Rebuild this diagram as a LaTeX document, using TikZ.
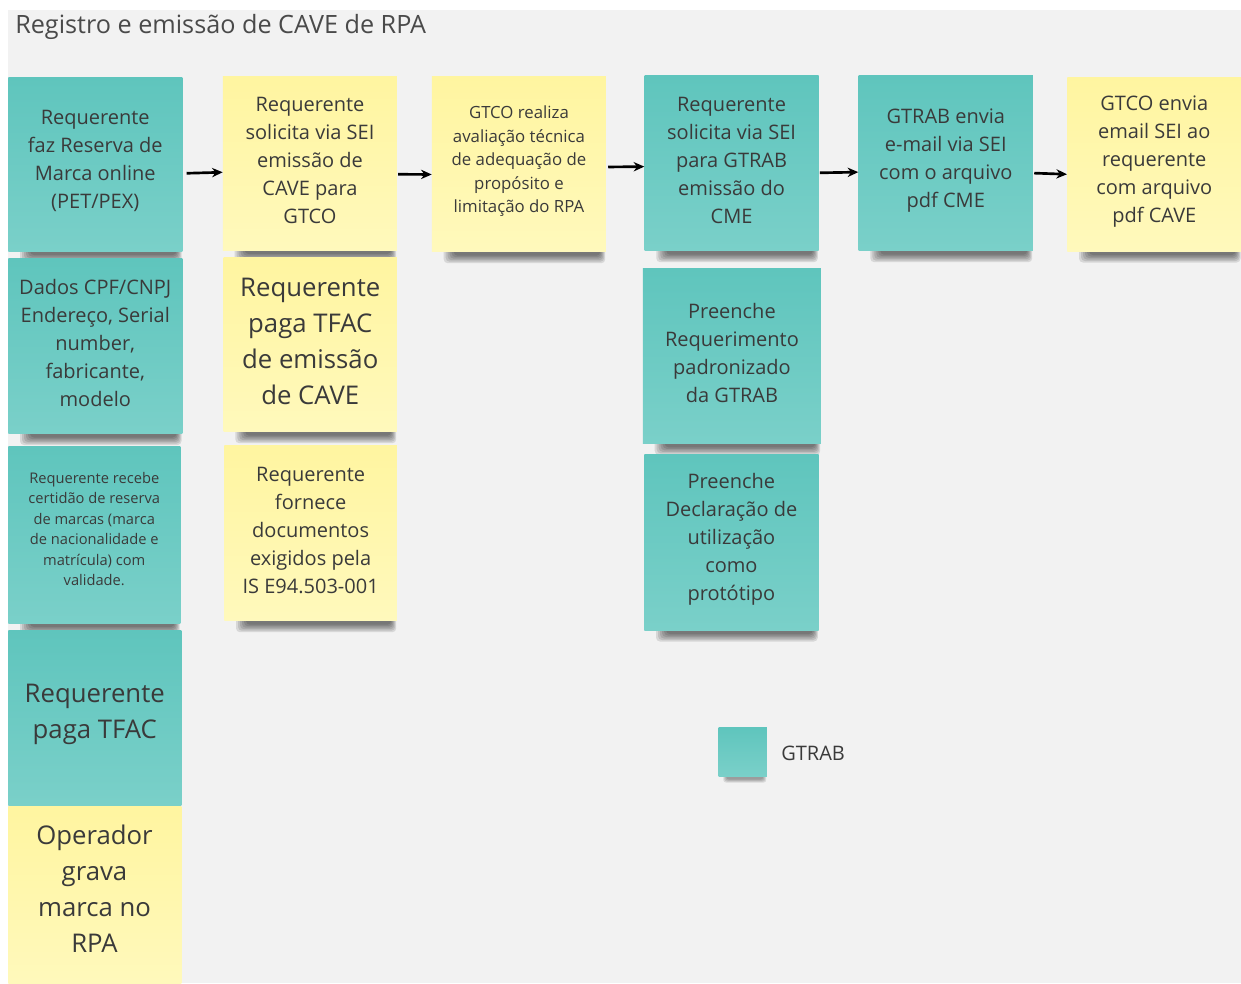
\documentclass[tikz,border=0pt]{standalone}
\usepackage{fontspec}
\setmainfont{Open Sans}
\usetikzlibrary{calc,arrows.meta}
\definecolor{bgc}{HTML}{F2F2F2}
\definecolor{tealA}{HTML}{5FC5BD}
\definecolor{tealB}{HTML}{7AD0C9}
\definecolor{yelA}{HTML}{FFF5A0}
\definecolor{yelB}{HTML}{FFF9BC}
\definecolor{txt}{HTML}{3A3A3A}
\definecolor{ttl}{HTML}{4A4A4A}
\pgfdeclarelayer{bglayer}
\pgfdeclarelayer{shadowlayer}
\pgfsetlayers{bglayer,shadowlayer,main}
\newcommand{\noteshadow}[1]{%
  \begin{pgfonlayer}{shadowlayer}
    \foreach \i in {0,...,5}{
      \fill[black,opacity=0.11,rounded corners=3]
        ($(#1.south west)+(12+2*\i,-4)$) rectangle ($(#1.south east)+(-1-\i,11-1.5*\i)$);
    }
  \end{pgfonlayer}}
% #1 name, #2 box style, #3 text style, #4 x, #5 y, #6 w, #7 h, #8 text
\newcommand{\sticky}[8]{%
  \node[#2, sz={#6}{#7}] (#1) at (#4,#5) {};
  \node[notetext, #3] (#1t) at ($(#1.center)+(0,-3)$) {#8};}
\tikzset{
  sz/.style 2 args={minimum width=#1*0.75pt, minimum height=#2*0.75pt},
  note/.style={anchor=north west, inner sep=0pt},
  tealnote/.style={note, top color=tealA, bottom color=tealB},
  yelnote/.style={note, top color=yelA, bottom color=yelB},
  notetext/.style={inner sep=0pt, align=center, text=txt, font=\fontsize{15}{21}\selectfont},
  smallA/.style={font=\fontsize{12.6}{17.6}\selectfont},
  smallB/.style={font=\fontsize{11}{15.4}\selectfont, yshift=2.25pt},
  large/.style={font=\fontsize{19.3}{27}\selectfont},
  arr/.style={line width=2pt, -{Stealth[length=8pt,width=7pt]}, black},
}
\begin{document}
\begin{tikzpicture}[x=0.75pt,y=-0.75pt]
\useasboundingbox (0,0) rectangle (1241,983);
\begin{pgfonlayer}{bglayer}
  \fill[white] (0,0) rectangle (1241,983);
  \fill[bgc] (8,10) rectangle (1241,983);
\end{pgfonlayer}

\node[anchor=base west, inner sep=0pt, text=ttl, font=\fontsize{18.9}{23}\selectfont] (title) at (15,33) {Registro e emissão de CAVE de RPA};

% column 1
\sticky{n1}{tealnote}{}{8}{77}{174}{174}{Requerente\\faz Reserva de\\Marca online\\(PET/PEX)}
\sticky{n2}{tealnote}{}{8}{258.5}{174}{175}{Dados CPF/CNPJ\\Endereço, Serial\\number,\\fabricante,\\modelo}
\sticky{n3}{tealnote}{smallB}{8}{446.5}{172}{176.5}{Requerente recebe\\certidão de reserva\\de marcas (marca\\de nacionalidade e\\matrícula) com\\validade.}
\sticky{n4}{tealnote}{large}{8}{630}{173}{175}{Requerente\\paga TFAC}
\node[yelnote, sz={173}{180}] (n5) at (8,806.5) {};
\node[notetext, large] (n5t) at (94.5,889) {Operador\\grava\\marca no\\RPA};

% column 2
\sticky{m1}{yelnote}{}{222.7}{76}{174}{174}{Requerente\\solicita via SEI\\emissão de\\CAVE para\\GTCO}
\sticky{m2}{yelnote}{large}{223.3}{257.3}{173.4}{174.4}{Requerente\\paga TFAC\\de emissão\\de CAVE}
\sticky{m3}{yelnote}{}{224}{445}{172.7}{175.7}{Requerente\\fornece\\documentos\\exigidos pela\\IS E94.503-001}

% column 3
\sticky{g1}{yelnote}{smallA}{431.7}{76.7}{174}{175}{GTCO realiza\\avaliação técnica\\de adequação de\\propósito e\\limitação do RPA}

% column 4
\sticky{r1}{tealnote}{}{644.3}{75}{174}{175.7}{Requerente\\solicita via SEI\\para GTRAB\\emissão do\\CME}
\sticky{r2}{tealnote}{}{642.7}{268.3}{178}{175}{Preenche\\Requerimento\\padronizado\\da GTRAB}
\sticky{r3}{tealnote}{}{644}{454.3}{174.3}{175.7}{Preenche\\Declaração de\\utilização\\como\\protótipo}

% column 5
\sticky{e1}{tealnote}{}{858.3}{75}{174.4}{175.7}{GTRAB envia\\e-mail via SEI\\com o arquivo\\pdf CME}

% column 6
\sticky{c1}{yelnote}{}{1067}{77}{174}{174}{GTCO envia\\email SEI ao\\requerente\\com arquivo\\pdf CAVE}

% legend
\node[tealnote, sz={48.4}{48.7}] (leg) at (718.3,727.3) {};
\node[anchor=west, notetext] (legt) at (781,753) {GTRAB};

% shadows
\foreach \n in {n1,n2,n3,n4,m1,m2,m3,g1,r1,r2,r3,e1,c1}{\noteshadow{\n}}
\begin{pgfonlayer}{shadowlayer}
  \foreach \i in {0,...,3}{
    \fill[black,opacity=0.1,rounded corners=2]
      ($(leg.south west)+(5+\i,-3)$) rectangle ($(leg.south east)+(-1-\i,6-\i)$);
  }
\end{pgfonlayer}

% arrows
\draw[arr] ($(n1.east)+(4,9)$) -- ($(m1.west)+(0,9)$);
\draw[arr] ($(m1.east)+(1,11)$) -- ($(g1.west)+(0,10)$);
\draw[arr] ($(g1.east)+(2,2.5)$) -- ($(r1.west)+(0,3.5)$);
\draw[arr] ($(r1.east)+(1,9.7)$) -- ($(e1.west)+(0,9)$);
\draw[arr] ($(e1.east)+(1,10)$) -- ($(c1.west)+(0,10)$);
\end{tikzpicture}
\end{document}
